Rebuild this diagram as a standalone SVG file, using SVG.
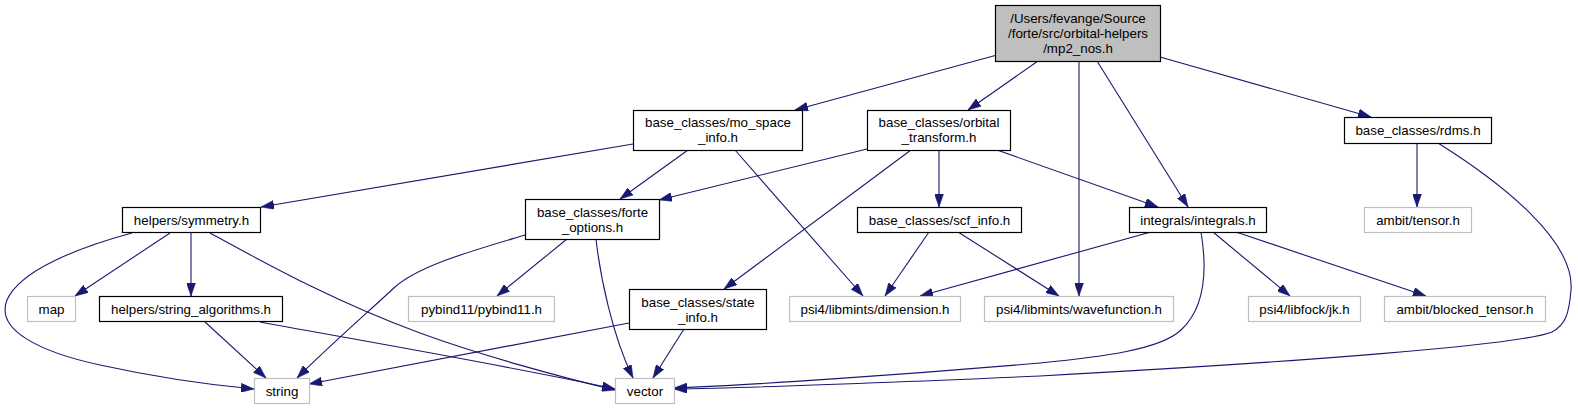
<svg xmlns="http://www.w3.org/2000/svg" width="1578" height="409" viewBox="0 0 1578 409">
<style>
.n rect{fill:#ffffff;stroke:#000000;stroke-width:1.2}
.g rect{fill:#ffffff;stroke:#bfbfbf;stroke-width:1.2}
.root rect{fill:#bfbfbf;stroke:#000000;stroke-width:1.2}
text{font-family:"Liberation Sans",Arial,sans-serif;font-size:13.33px;fill:#000000;text-anchor:middle}
#edges path{fill:none;stroke:#191970;stroke-width:1.1;marker-end:url(#ah)}
</style>
<defs>
<marker id="ah" viewBox="0 0 13 9" refX="13" refY="4.5" markerWidth="13" markerHeight="9" markerUnits="userSpaceOnUse" orient="auto">
<path d="M0,0 L13,4.5 L0,9 z" fill="#191970" stroke="#191970" stroke-width="0.5"/>
</marker>
</defs>
<rect x="0" y="0" width="1578" height="409" fill="#ffffff"/>
<g id="edges">
<path d="M997,55 L795,110"/>
<path d="M1038,61 L968,110"/>
<path d="M1079,61 L1079,296"/>
<path d="M1097,61 L1188,207"/>
<path d="M1160,57 L1371,117"/>
<path d="M633,144 L261,207"/>
<path d="M688,150 L620,199"/>
<path d="M735,150 L863,296"/>
<path d="M867,149 L659,200"/>
<path d="M911,150 L724,289"/>
<path d="M939,150 L939,207"/>
<path d="M997,150 L1158,207"/>
<path d="M1417,143 L1417,207"/>
<path d="M1438,143 C1500,182 1575,240 1571,290 C1569,315 1565,325 1552,332 C1520,345 1300,362 1040,376 C900,382 740,388 674,389"/>
<path d="M567,239 L497,296"/>
<path d="M525,235 C475,250 420,265 395,287 C368,312 325,350 297,378"/>
<path d="M596,239 C600,275 612,335 633,378"/>
<path d="M170,233 L75,296"/>
<path d="M191,232 L191,296"/>
<path d="M132,233 C80,247 20,270 7,300 C-5,330 40,352 100,365 C150,376 200,384 254,389"/>
<path d="M210,233 C260,260 330,300 420,333 C480,355 560,377 615,390"/>
<path d="M205,322 L266,378"/>
<path d="M260,322 C380,344 520,368 615,389"/>
<path d="M629,323 L309,384"/>
<path d="M684,329 L653,378"/>
<path d="M929,232 L885,296"/>
<path d="M958,232 L1059,296"/>
<path d="M1151,232 L920,296"/>
<path d="M1213,232 L1290,296"/>
<path d="M1236,232 L1426,296"/>
<path d="M1201,232 C1206,262 1208,305 1181,330 C1160,350 1100,357 1040,363 C900,375 750,385 674,388"/>
</g>
<g id="mp2_nos" class="root"><rect x="995.5" y="5.5" width="165" height="56"/><text x="1078" y="22.5">/Users/fevange/Source</text><text x="1078" y="37.5">/forte/src/orbital-helpers</text><text x="1078" y="52.5">/mp2_nos.h</text></g>
<g id="mo_space_info" class="n"><rect x="633.5" y="110.5" width="169" height="40"/><text x="718" y="127">base_classes/mo_space</text><text x="718" y="142">_info.h</text></g>
<g id="orbital_transform" class="n"><rect x="867.5" y="110.5" width="143" height="40"/><text x="939" y="127">base_classes/orbital</text><text x="939" y="142">_transform.h</text></g>
<g id="rdms" class="n"><rect x="1344.5" y="117.5" width="147" height="26"/><text x="1418" y="135">base_classes/rdms.h</text></g>
<g id="symmetry" class="n"><rect x="122.5" y="207.5" width="138" height="25"/><text x="191.5" y="224.5">helpers/symmetry.h</text></g>
<g id="forte_options" class="n"><rect x="525.5" y="199.5" width="134" height="40"/><text x="592.5" y="216.5">base_classes/forte</text><text x="592.5" y="231.5">_options.h</text></g>
<g id="scf_info" class="n"><rect x="857.5" y="207.5" width="164" height="25"/><text x="939.5" y="224.5">base_classes/scf_info.h</text></g>
<g id="integrals" class="n"><rect x="1129.5" y="207.5" width="137" height="25"/><text x="1198" y="224.5">integrals/integrals.h</text></g>
<g id="ambit_tensor" class="g"><rect x="1364.5" y="207.5" width="107" height="25"/><text x="1418" y="224.5">ambit/tensor.h</text></g>
<g id="map" class="g"><rect x="27.5" y="296.5" width="48" height="25"/><text x="51.5" y="313.5">map</text></g>
<g id="string_algorithms" class="n"><rect x="99.5" y="296.5" width="183" height="25"/><text x="191" y="313.5">helpers/string_algorithms.h</text></g>
<g id="pybind11" class="g"><rect x="408.5" y="296.5" width="146" height="25"/><text x="481.5" y="313.5">pybind11/pybind11.h</text></g>
<g id="state_info" class="n"><rect x="629.5" y="289.5" width="137" height="40"/><text x="698" y="306.5">base_classes/state</text><text x="698" y="321.5">_info.h</text></g>
<g id="dimension" class="g"><rect x="789.5" y="296.5" width="171" height="25"/><text x="875" y="313.5">psi4/libmints/dimension.h</text></g>
<g id="wavefunction" class="g"><rect x="984.5" y="296.5" width="189" height="25"/><text x="1079" y="313.5">psi4/libmints/wavefunction.h</text></g>
<g id="jk" class="g"><rect x="1248.5" y="296.5" width="112" height="25"/><text x="1304.5" y="313.5">psi4/libfock/jk.h</text></g>
<g id="blocked_tensor" class="g"><rect x="1384.5" y="296.5" width="161" height="25"/><text x="1465" y="313.5">ambit/blocked_tensor.h</text></g>
<g id="string" class="g"><rect x="254.5" y="378.5" width="55" height="25"/><text x="282" y="395.5">string</text></g>
<g id="vector" class="g"><rect x="615.5" y="378.5" width="59" height="25"/><text x="645" y="395.5">vector</text></g>
</svg>
